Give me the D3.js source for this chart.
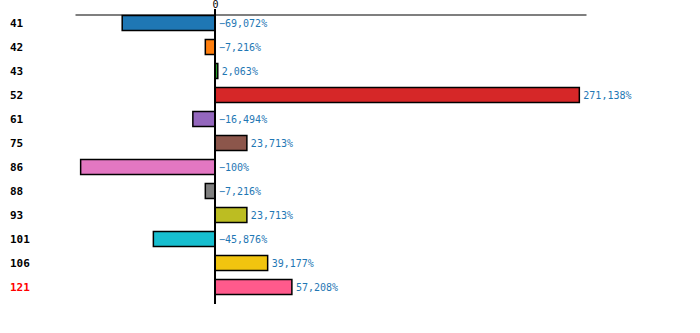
<!DOCTYPE html>
<html>
<head>
<meta charset="utf-8">
<script src="https://cdn.jsdelivr.net/npm/d3@7"></script>
<style>
  body { margin: 0; background: #fff; }
  text { font-family: "DejaVu Sans Mono", monospace; }
</style>
</head>
<body>
<svg id="chart" width="700" height="333"></svg>
<script>
const categories = ["41", "42", "43", "52", "61", "75", "86", "88", "93", "101", "106", "121"];
const values = [-69.072, -7.216, 2.063, 271.138, -16.494, 23.713, -100, -7.216, 23.713, -45.876, 39.177, 57.208];
const colors = ["#1f77b4", "#ff7f0e", "#2ca02c", "#d62728", "#9467bd", "#8c564b", "#e377c2", "#7f7f7f", "#bcbd22", "#17becf", "#f1c40f", "#ff5a8c"];
const highlight = "121";

const svg = d3.select("#chart");
const x = d3.scaleLinear().domain([-104.2, 276.1]).range([75, 586]);
const y = d3.scaleBand().domain(categories).range([11, 299]).paddingInner(0.375).paddingOuter(0.1875);

const fmt = v => d3.format(",")(+v.toFixed(3)).replace(/,/g, "").replace(".", ",") + "%";

// top axis
const xAxis = d3.axisTop(x).tickValues([0]).tickSize(0).tickPadding(7).tickFormat(d3.format("d"));
const gx = svg.append("g").attr("transform", "translate(0,14.5)").call(xAxis);
gx.select(".domain").attr("stroke", "#000").attr("stroke-width", 1.2);
gx.selectAll("text").attr("font-size", 10).attr("fill", "#000").attr("font-family", "DejaVu Sans Mono, monospace");

// bars
svg.append("g").selectAll("rect").data(categories).join("rect")
  .attr("x", (d, i) => x(Math.min(0, values[i])))
  .attr("y", d => y(d))
  .attr("width", (d, i) => Math.abs(x(values[i]) - x(0)))
  .attr("height", y.bandwidth())
  .attr("fill", (d, i) => colors[i])
  .attr("stroke", "#000")
  .attr("stroke-width", 1.5);

// zero line
svg.append("line")
  .attr("x1", x(0)).attr("x2", x(0))
  .attr("y1", 9).attr("y2", 304)
  .attr("stroke", "#000").attr("stroke-width", 2);

// value labels
svg.append("g").selectAll("text").data(categories).join("text")
  .attr("x", (d, i) => values[i] > 0 ? x(values[i]) + 4 : x(0) + 4)
  .attr("y", d => y(d) + y.bandwidth() / 2)
  .attr("dy", "0.35em")
  .attr("font-size", 10)
  .attr("fill", "#1f77b4")
  .text((d, i) => fmt(values[i]));

// category labels
svg.append("g").selectAll("text").data(categories).join("text")
  .attr("x", 10)
  .attr("y", d => y(d) + y.bandwidth() / 2)
  .attr("dy", "0.35em")
  .attr("font-size", 11)
  .attr("font-weight", "bold")
  .attr("fill", d => d === highlight ? "#ff0000" : "#000")
  .text(d => d);
</script>
</body>
</html>
